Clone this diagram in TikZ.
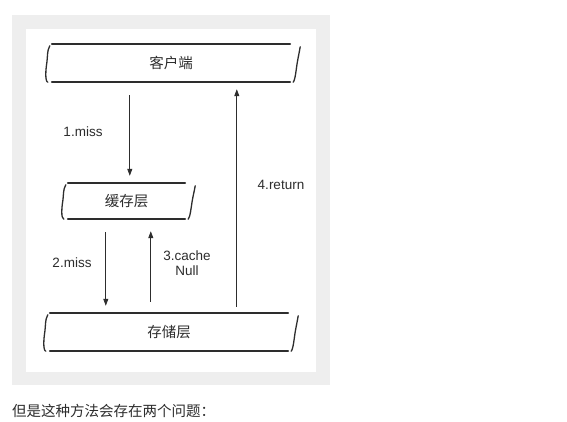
\documentclass[tikz,border=0pt]{standalone}
\usepackage{fontspec}
\setmainfont{Liberation Sans}
\newfontfamily\cjk{Noto Sans CJK SC}
\usetikzlibrary{arrows.meta,calc}
\definecolor{panelgray}{RGB}{238,238,238}
\definecolor{inkgray}{RGB}{45,45,45}
\begin{document}
\begin{tikzpicture}[x=1pt,y=-1pt,
  layerbox/.style={minimum height=38pt, inner sep=0pt, text=inkgray,
    font=\cjk\fontsize{14.5}{14.5}\selectfont},
  edge/.style={line width=1.8pt, draw=inkgray, line cap=round},
  bracestroke/.style={line width=1.3pt, draw=inkgray, line cap=round},
  flow/.style={-{Triangle[length=7pt,width=5pt]}, line width=0.8pt, draw=inkgray},
  lbl/.style={font=\fontsize{13.5}{15}\selectfont, text=inkgray, align=center, inner sep=0pt}]
\useasboundingbox (0,0) rectangle (567,421);
\fill[white] (0,0) rectangle (567,421);
\fill[panelgray] (12,15) rectangle (330,385);
\fill[white] (26,29) rectangle (316,372);

\node[layerbox, minimum width=238pt] (client) at (171,63) {客户端};
\node[layerbox, minimum width=117pt, minimum height=36pt] (cache) at (126.5,201) {缓存层};
\node[layerbox, minimum width=238pt] (store) at (169,332) {存储层};

\foreach \n in {client,cache,store} {
  \draw[edge] (\n.north west) -- (\n.north east);
  \draw[edge] (\n.south west) -- (\n.south east);
  \draw[bracestroke] ($(\n.north west)+(-2,2)$) .. controls +(-3,5) and +(1,-6) .. ($(\n.west)+(-5,0)$)
     .. controls +(-1,6) and +(-3,-1) .. ($(\n.south west)+(-4,0)$);
  \draw[bracestroke] ($(\n.north east)+(10,3)$) .. controls +(-1,6) and +(1,-6) .. ($(\n.east)+(7,0)$)
     .. controls +(-1,6) and +(2,-2) .. ($(\n.south east)+(3,0)$);
}

\draw[flow] ($(client.south west)+(78,13)$) -- ($(cache.north west)+(62,-7)$);
\draw[flow] ($(cache.south west)+(38,13)$) -- ($(store.north west)+(56,-7)$);
\draw[flow] ($(store.north west)+(101,-11)$) -- ($(cache.south west)+(83,12)$);
\draw[flow] ($(store.north west)+(187,-6)$) -- ($(client.south west)+(185,7)$);

\node[lbl] (l1) at (83,132) {1.miss};
\node[lbl] (l2) at (72,263) {2.miss};
\node[lbl] (l3) at (187,263) {3.cache\\Null};
\node[lbl] (l4) at (281,185) {4.return};

\node[anchor=west, inner sep=0pt, text=inkgray, font=\cjk\fontsize{14.5}{14.5}\selectfont] (note) at (12,411) {但是这种方法会存在两个问题：};
\end{tikzpicture}
\end{document}
